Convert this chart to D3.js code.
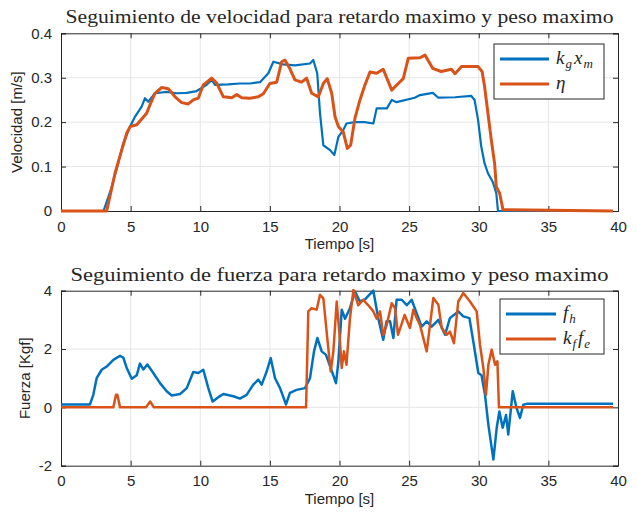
<!DOCTYPE html>
<html>
<head>
<meta charset="utf-8">
<script src="https://cdn.jsdelivr.net/npm/d3@7"></script>
<style>
  body { margin: 0; background: #fff; }
  svg text { fill: #262626; }
</style>
</head>
<body>
<div id="container"></div>
<script>
// ---- data ----
const xTicks = [0, 5, 10, 15, 20, 25, 30, 35, 40];
const velTicks = [0, 0.1, 0.2, 0.3, 0.4];
const forceTicks = [-2, 0, 2, 4];

// velocidad: k_g x_m
const tKgXm = [0, 3.05, 3.6, 4.0, 4.47, 4.96, 5.31, 5.79, 6.03, 6.27, 6.75, 7.59, 8.3, 9.03, 9.74, 10.46, 10.82, 11.06, 12.0, 12.85, 13.57, 14.29, 14.89, 15.25, 15.96, 16.8, 17.88, 18.12, 18.4, 18.6, 18.84, 19.32, 19.63, 19.92, 20.27, 20.5, 21.1, 21.8, 22.43, 22.67, 23.4, 23.75, 24.1, 25.4, 25.78, 26.7, 27.1, 28.3, 29.47, 29.7, 29.95, 30.18, 30.42, 30.66, 31.0, 31.26, 31.38, 39.64];
const kgXm = [0, 0, 0.05, 0.095, 0.152, 0.19, 0.212, 0.235, 0.254, 0.246, 0.265, 0.268, 0.265, 0.266, 0.27, 0.284, 0.295, 0.284, 0.285, 0.287, 0.287, 0.29, 0.31, 0.336, 0.33, 0.328, 0.332, 0.34, 0.31, 0.22, 0.148, 0.137, 0.126, 0.167, 0.182, 0.197, 0.2, 0.2, 0.197, 0.231, 0.231, 0.25, 0.245, 0.255, 0.261, 0.266, 0.255, 0.256, 0.259, 0.25, 0.205, 0.145, 0.107, 0.085, 0.066, 0.04, 0, 0];

// velocidad: eta
const tEta = [0, 3.28, 3.88, 4.36, 4.72, 4.96, 5.44, 6.15, 6.39, 6.75, 7.23, 7.71, 8.19, 8.67, 9.14, 9.5, 9.86, 10.22, 10.82, 11.18, 11.66, 12.26, 12.62, 12.98, 13.57, 14.17, 14.53, 15.0, 15.49, 15.85, 16.08, 16.44, 16.8, 17.28, 17.64, 18.0, 18.48, 18.84, 19.12, 19.44, 19.68, 19.92, 20.27, 20.56, 20.8, 21.11, 21.47, 21.83, 22.19, 22.67, 23.14, 23.75, 24.22, 24.58, 24.94, 25.78, 26.14, 26.7, 27.3, 28.03, 28.3, 28.75, 29.35, 29.95, 30.24, 30.42, 30.66, 30.9, 31.14, 31.26, 31.5, 31.74, 39.64];
const eta = [0, 0, 0.085, 0.137, 0.175, 0.19, 0.194, 0.22, 0.239, 0.265, 0.278, 0.275, 0.257, 0.244, 0.241, 0.25, 0.254, 0.284, 0.299, 0.288, 0.257, 0.255, 0.262, 0.255, 0.254, 0.257, 0.264, 0.287, 0.29, 0.336, 0.34, 0.32, 0.295, 0.29, 0.299, 0.265, 0.257, 0.287, 0.298, 0.265, 0.212, 0.19, 0.178, 0.141, 0.148, 0.209, 0.25, 0.284, 0.313, 0.31, 0.319, 0.272, 0.287, 0.298, 0.344, 0.345, 0.351, 0.321, 0.314, 0.319, 0.309, 0.325, 0.325, 0.325, 0.314, 0.28, 0.22, 0.16, 0.107, 0.055, 0.04, 0.003, 0];

// fuerza: f_h
const tFh = [0, 2.08, 2.32, 2.56, 2.92, 3.28, 3.76, 4.24, 4.48, 4.72, 5.08, 5.44, 5.67, 5.91, 6.2, 6.63, 7.11, 7.59, 7.95, 8.55, 9.03, 9.5, 9.86, 10.22, 10.58, 10.89, 11.3, 11.66, 12.38, 12.85, 13.33, 13.81, 14.17, 14.41, 14.77, 15.06, 15.37, 15.73, 16.16, 16.44, 16.92, 17.52, 17.88, 18.17, 18.41, 18.72, 19.03, 19.37, 19.75, 19.92, 20.16, 20.4, 20.75, 21.11, 21.47, 21.83, 22.43, 22.79, 23.14, 23.38, 23.63, 23.87, 24.1, 24.47, 24.83, 25.18, 25.54, 25.9, 26.26, 26.62, 27.1, 27.58, 27.93, 28.53, 28.89, 29.33, 29.61, 29.97, 30.2, 30.45, 30.69, 31.05, 31.29, 31.48, 31.72, 31.96, 32.12, 32.44, 32.72, 32.96, 33.2, 33.44, 39.64];
const fh = [0.1, 0.1, 0.43, 1.0, 1.29, 1.4, 1.63, 1.77, 1.7, 1.35, 0.98, 1.1, 1.5, 1.3, 1.47, 1.18, 0.83, 0.55, 0.41, 0.46, 0.66, 1.21, 1.18, 1.29, 0.66, 0.2, 0.35, 0.46, 0.38, 0.3, 0.43, 0.78, 0.95, 0.78, 1.23, 1.69, 1.0, 0.66, 0.1, 0.5, 0.6, 0.66, 1.0, 1.92, 2.38, 1.92, 1.8, 1.35, 0.83, 1.58, 3.35, 3.04, 3.4, 3.97, 3.63, 3.7, 4.0, 3.04, 2.32, 2.95, 2.95, 2.38, 3.69, 3.69, 3.5, 3.69, 3.23, 2.77, 2.95, 2.77, 3.0, 2.49, 3.06, 3.29, 3.12, 3.06, 2.26, 1.18, 1.1, 0.43, -0.59, -1.79, -0.7, -0.14, -0.7, -0.26, -0.93, 0.55, -0.03, -0.36, 0.09, 0.12, 0.12];

// fuerza: k_f f_e
const tKfFe = [0, 3.76, 3.95, 4.05, 4.24, 6.1, 6.4, 6.67, 17.6, 17.76, 18.0, 18.36, 18.6, 18.84, 19.12, 19.37, 19.56, 19.8, 20.0, 20.16, 20.32, 20.5, 20.75, 21.0, 21.35, 21.7, 22.07, 22.43, 22.67, 22.91, 23.14, 23.39, 23.75, 23.99, 24.2, 24.44, 24.68, 25.06, 25.3, 25.54, 25.78, 26.26, 26.5, 26.74, 27.1, 27.34, 27.7, 27.93, 28.22, 28.53, 28.89, 29.37, 29.85, 30.09, 30.33, 30.52, 30.69, 30.93, 31.17, 31.34, 31.45, 39.64];
const kfFe = [0, 0, 0.43, 0.43, 0, 0, 0.2, 0, 0, 3.29, 3.4, 3.35, 3.86, 3.74, 2.38, 1.23, 1.92, 3.63, 2.49, 1.35, 1.92, 1.46, 3.04, 4.03, 3.5, 3.69, 3.5, 3.29, 3.04, 3.29, 2.49, 2.83, 3.57, 3.4, 2.49, 2.83, 3.17, 2.72, 3.35, 3.06, 2.83, 1.92, 2.83, 3.75, 3.52, 2.72, 2.49, 2.6, 2.2, 3.63, 3.92, 3.63, 3.29, 2.15, 1.35, 0.43, 1.46, 1.98, 1.46, 1.58, 0, 0];

const blue = "#0072BD", orange = "#D95319";

const svg = d3.select("#container").append("svg")
    .attr("width", 637)
    .attr("height", 512);

const x = d3.scaleLinear().domain([0, 40]).range([61, 618]);

// MATLAB-like tick text: "0", "0.1", "-2"
const fmtTick = d => String(+d.toFixed(2));

function panel(opts) {
    const y = d3.scaleLinear().domain(opts.yDomain).range([opts.bottom, opts.top]);
    const g = svg.append("g");

    // grid
    g.append("g").selectAll("line").data(xTicks.slice(1, -1)).enter().append("line")
        .attr("x1", d => x(d)).attr("x2", d => x(d))
        .attr("y1", opts.top).attr("y2", opts.bottom)
        .attr("stroke", "#e6e6e6").attr("stroke-width", 1);
    g.append("g").selectAll("line").data(opts.yTicks.slice(1, -1)).enter().append("line")
        .attr("x1", 61).attr("x2", 618)
        .attr("y1", d => y(d)).attr("y2", d => y(d))
        .attr("stroke", "#e6e6e6").attr("stroke-width", 1);

    // axes, ticks inward on all four sides
    const axB = g.append("g").attr("transform", `translate(0,${opts.bottom})`)
        .call(d3.axisBottom(x).tickValues(xTicks).tickSize(-5).tickPadding(10).tickFormat(fmtTick));
    const axT = g.append("g").attr("transform", `translate(0,${opts.top})`)
        .call(d3.axisTop(x).tickValues(xTicks).tickSize(-5).tickFormat(""));
    const axL = g.append("g").attr("transform", "translate(61,0)")
        .call(d3.axisLeft(y).tickValues(opts.yTicks).tickSize(-5).tickPadding(9).tickFormat(fmtTick));
    const axR = g.append("g").attr("transform", "translate(618,0)")
        .call(d3.axisRight(y).tickValues(opts.yTicks).tickSize(-5).tickFormat(""));
    [axB, axT, axL, axR].forEach(a => {
        a.select(".domain").attr("stroke", "#262626").attr("stroke-width", 1);
        a.selectAll(".tick line").attr("stroke", "#262626");
        a.selectAll("text").attr("font-family", "Liberation Sans, Arial, sans-serif")
            .attr("font-size", 15).attr("fill", "#262626");
    });

    // lines
    const clipId = "clip" + Math.round(opts.top);
    svg.append("clipPath").attr("id", clipId).append("rect")
        .attr("x", 61).attr("y", opts.top - 2).attr("width", 557).attr("height", opts.bottom - opts.top + 4);
    opts.series.forEach(s => {
        const pts = s.t.map((t, i) => [t, s.v[i]]);
        g.append("path")
            .datum(pts)
            .attr("clip-path", `url(#${clipId})`)
            .attr("fill", "none")
            .attr("stroke", s.color)
            .attr("stroke-width", s.width)
            .attr("stroke-linejoin", "round")
            .attr("d", d3.line().x(d => x(d[0])).y(d => y(d[1])));
    });

    // title
    g.append("text")
        .attr("x", 339.5).attr("y", opts.top - 10)
        .attr("text-anchor", "middle")
        .attr("font-family", "Liberation Serif, Times New Roman, serif")
        .attr("font-size", 19)
        .attr("textLength", opts.titleLen).attr("lengthAdjust", "spacingAndGlyphs")
        .text(opts.title);

    // axis labels
    g.append("text")
        .attr("x", 339.5).attr("y", opts.bottom + 38)
        .attr("text-anchor", "middle")
        .attr("font-family", "Liberation Sans, Arial, sans-serif")
        .attr("font-size", 15)
        .text("Tiempo [s]");
    g.append("text")
        .attr("transform", `translate(${opts.ylabelX},${(opts.top + opts.bottom) / 2}) rotate(-90)`)
        .attr("text-anchor", "middle")
        .attr("font-family", "Liberation Sans, Arial, sans-serif")
        .attr("font-size", 15)
        .text(opts.ylabel);

    // legend
    const L = opts.legend;
    g.append("rect")
        .attr("x", L.x).attr("y", L.y).attr("width", L.w).attr("height", L.h)
        .attr("fill", "#fff").attr("stroke", "#262626").attr("stroke-width", 1);
    opts.series.forEach((s, i) => {
        const yy = L.y + 15 + i * 25;
        g.append("line")
            .attr("x1", L.x + L.lx0).attr("x2", L.x + L.lx1)
            .attr("y1", yy).attr("y2", yy)
            .attr("stroke", s.color).attr("stroke-width", 3);
        const t = g.append("text")
            .attr("x", L.x + L.lx1 + 7).attr("y", yy + 5)
            .attr("font-family", "Liberation Serif, Times New Roman, serif")
            .attr("font-style", "italic")
            .attr("font-size", 19);
        s.label.forEach(p => {
            const ts = t.append("tspan").text(p.s);
            if (p.sub) ts.attr("font-size", 13).attr("dy", 4).attr("dx", 1);
            else if (p.back) ts.attr("dy", -4).attr("dx", 2);
        });
    });
    return y;
}

panel({
    top: 33.3, bottom: 211, yDomain: [0, 0.4], yTicks: velTicks,
    title: "Seguimiento de velocidad para retardo maximo y peso maximo", titleLen: 548,
    ylabel: "Velocidad [m/s]", ylabelX: 22,
    legend: { x: 494, y: 44, w: 110, h: 55, lx0: 6, lx1: 55 },
    series: [
        { t: tKgXm, v: kgXm, color: blue, width: 2.2,
          label: [{ s: "k" }, { s: "g", sub: true }, { s: "x", back: true }, { s: "m", sub: true }] },
        { t: tEta, v: eta, color: orange, width: 3,
          label: [{ s: "η" }] }
    ]
});

panel({
    top: 290.7, bottom: 465.7, yDomain: [-2, 4], yTicks: forceTicks,
    title: "Seguimiento de fuerza para retardo maximo y peso maximo", titleLen: 538,
    ylabel: "Fuerza [Kgf]", ylabelX: 30,
    legend: { x: 500, y: 299, w: 104, h: 55, lx0: 6, lx1: 56 },
    series: [
        { t: tFh, v: fh, color: blue, width: 2.5,
          label: [{ s: "f" }, { s: "h", sub: true }] },
        { t: tKfFe, v: kfFe, color: orange, width: 2.5,
          label: [{ s: "k" }, { s: "f", sub: true }, { s: "f", back: true }, { s: "e", sub: true }] }
    ]
});
</script>
</body>
</html>
